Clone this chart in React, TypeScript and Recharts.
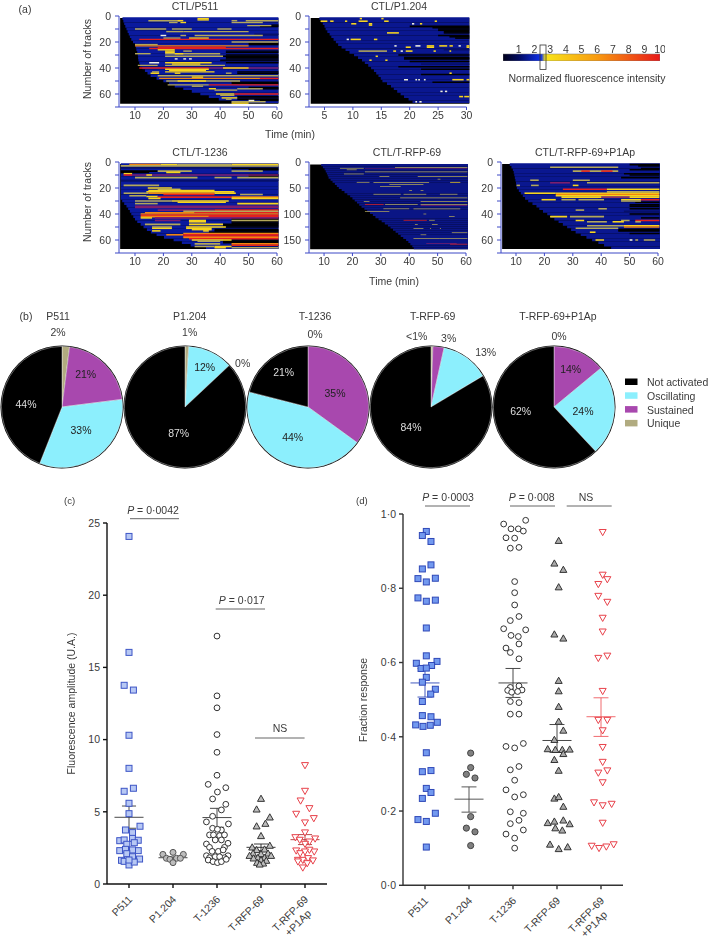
import React from "react";
import { ComposedChart, ScatterChart, Scatter, XAxis, YAxis, ReferenceArea, ReferenceLine, PieChart, Pie, Cell, BarChart, Bar } from "recharts";

const FONT = "'Liberation Sans', Arial, sans-serif";
const TXT = "#3a3a3a";
const AXB = "#3d48c6";
const FS = 10.5;

// intensity levels
const K = 0, N = 1.5, T = 2.7, Y = 3.5, O = 6, P = 7.5, R = 9, W = 11;
const levelColor = (l: number) =>
  l === K ? "#000" : l === N ? "#07106a" : l === T ? "#b3a75a" : l === Y ? "#f7d41e" : l === O ? "#f2850f" : l === P ? "#7d1f6c" : l === R ? "#e3201f" : "#eeeedd";

type Seg = [number, number, number, number];

const entryP511 = [5.6,5.9,6.2,6.6,7,7.4,7.8,8.2,8.7,9.3,10,10.3,10.5,10.8,11,11.1,11.2,11.5,11.8,12.6,13.5,14.4,15.5,17.6,20,22,24,27,30,33,36,39.5,44];
const segsP511: Seg[] = [
  [7,58,60.5,K],[8,54,60.5,K],[14,52,60.5,N],[21,50,60.5,K],[22,50,60.5,K],[27,42,60.5,K],[28,42,60.5,K],[30,42,60.5,K],[31,40,60.5,K],[32,42,60.5,K],[33,42,60.5,K],[34,40,60.5,K],[35,40,60.5,N],[36,42,60.5,K],[43,46,60.5,K],[44,46,60.5,K],[55,50,60.5,K],[56,54,60.5,K],[62,46,60.5,K],[63,46,60.5,K],[64,46,60.5,K],[65,54,60.5,K],[51,44,60.5,K],[52,44,60.5,K],
  [3.6,14.7,26,T],[3.6,25,27,Y],[2,32,36,Y],[3,32,36,Y],[3.6,44,46,T],[3.6,49,60.5,T],[5,22,25,T],[5,26,28,Y],[5,44,55,T],[7.4,49.5,58,T],[10,10,21,T],[10,23,30,T],[10,39,44,T],[12,21,27,T],[12,27,50,T],[15,19,21,W],[15,26,28,T],[15,31,55,T],[17,20,26,T],[17,29,36,Y],[18,11.5,60.5,R],[20,44,60.5,T],[22,10,18,T],[23,10,50,O],[24,18,42,R],[25,15,60.5,R],[26,18,24,Y],[27,20.6,24,Y],[28,20.6,24,Y],[27,27,30,T],[29,10,15.5,T],[29,20.6,40,T],[29,24,27,Y],[31,20.6,41,T],[33,24,25,W],[33,27,28,W],[33,29,30,W],[36,15,18.5,W],[36,20.6,37,Y],[37,23,33,Y],[38,11,18,T],[38,20.6,41.7,T],[40,11.5,36,R],[40,36,60.5,P],[40,41,50,Y],[41,20.6,36,Y],[42,22,35,Y],[43,20.6,38,Y],[43,16,18.5,T],[44,24,26,Y],[44,15.5,18.5,Y],[44,42,44,T],[46,18,60.5,T],[48,18.5,54,O],[48,54,60.5,R],[47,30,34,Y],[50,21,47,T],[50,25,30,Y],[50,30,35,Y],[53,21.5,36,T],[53,36,60.5,R],[54,30,34,T],[56,36,38.5,Y],[56,46,55,T],[57,38,46,T],[60,38.5,45,Y],[60,45,60.5,R],[61,40,45,T],[63,40.5,46,Y],[64,42,44,T],[66,44,56,T],[67,44,50,Y],[65,50,52,W],
];

const entryP1204 = [4.1,4.4,4.7,5,5.2,5.5,5.9,6.2,6.6,7,7.4,8,8.7,9.4,10.2,10.9,11.6,12.1,12.7,13.2,13.7,14.1,14.5,14.9,15.2,16,16.7,17.2,17.8,18.4,19,19.8,20.5];
const segsP1204: Seg[] = [
  [8,20,30.5,K],[9,24,30.5,K],[10,25,30.5,K],[11,25,30.5,K],[12,26,30.5,K],[13,26,30.5,K],[15,25,30.5,K],[16,27,30.5,K],[17,28,30.5,K],[26,26,30.5,N],[30,18,30.5,K],[32,19,30.5,K],[33,19,30.5,K],[35,20,30.5,K],[37,22,30.5,N],[39,18,30.5,K],[41,22,30.5,K],[45,22,30.5,K],[51,24,30.5,K],
  [2,11.2,11.6,Y],[2,15,15.4,Y],[4,4.3,5.5,Y],[4,6,6.6,Y],[4,8.6,9,Y],[4,11,12.6,Y],[4,15.5,16.3,Y],[4,24.4,24.8,Y],[6,9.7,10.6,Y],[6,12.8,13.4,Y],[7,12.8,13.4,Y],[6,20.4,20.8,W],[6,21.8,22.2,Y],[13,16,18.1,Y],[18,8.9,9.3,W],[18,9.6,11.4,Y],[18,13.7,14.3,Y],[23,17.3,17.7,W],[24,19.3,20.2,Y],[23,21,21.9,W],[24,23,24.3,Y],[23,23,24.3,Y],[23,25.2,26.6,Y],[23,27,27.6,Y],[23,28.6,29,W],[23,30,30.5,Y],[24,30,30.5,Y],[27,11,16,T],[27,17.1,17.6,Y],[27,18.4,18.8,W],[27,19.3,20.5,Y],[27,24.2,24.6,Y],[27,27,27.3,Y],[31,14,14.4,Y],[34,12.9,13.3,Y],[34,15.7,16.1,Y],[44,27,27.4,Y],[49,19,19.7,W],[49,21,21.3,W],[49,21.5,21.8,W],[49,22.5,22.8,W],[49,27.5,29.5,Y],[49,30,30.5,Y],[58,25.4,25.8,W],[58,26.2,26.6,W],[62,28.7,29.4,Y],[62,29.6,30.5,Y],[66,21,21.3,W],[66,21.7,22.1,W],
];

const entryT1236 = [5,5,5,5,5,5,5,5,5,5,5,5,5,5,5.5,6.2,7,7.6,8.2,8.7,9.4,10,10.8,12,13,14.2,15.6,17.6,20.2,23.6,26.5,29.6,35];
const segsT1236: Seg[] = [
  [4,5,60.5,N],[5,44,60.5,K],[6,50,60.5,K],[7,5,18,K],[8,5,15,K],[10,50,60.5,K],[11,50,60.5,K],[14,5,60.5,N],[37,30,60.5,N],[43,44,60.5,K],[44,44,60.5,K],[46,44,60.5,K],[47,44,60.5,K],[48,41,60.5,K],[49,41,60.5,K],[50,41,60.5,K],[52,38,60.5,K],[53,38,60.5,K],[54,36,60.5,K],[60,41,60.5,K],[61,41,60.5,K],[62,41,60.5,K],[64,44,60.5,K],
  [2,8,19,O],[2,19,25,Y],[2,25,44,T],[2,44,60.5,Y],[3,5,60.5,T],[7,18,30,T],[7,44,55,T],[8,21,26,Y],[9,6,9,Y],[10,6,9,R],[10,9,60.5,P],[10,14,16,Y],[12,10,32,T],[12,38,44,T],[12,46,60.5,T],[18,6,18.5,T],[20,14.5,23,Y],[21,18,26,T],[22,14.7,26.4,Y],[22,23,38,Y],[23,14,45,Y],[24,6,14.7,T],[24,14.7,38,O],[25,20,38,R],[24,38,45.5,Y],[25,47,55,T],[26,8,14,T],[26.5,14,18,Y],[27,18,44,R],[27,44,60.5,O],[28,14.7,19,Y],[28,44,60.5,Y],[30,10,23,T],[30,23,43,Y],[31,25,42,Y],[32,10,18,T],[32,46,60.5,Y],[34,10,60.5,P],[35,10,60.5,P],[37,18,38,P],[37,38,60.5,R],[38,27,60.5,T],[39,13.5,31,O],[39,31,60.5,R],[40,12,60.5,O],[41,12,60.5,R],[42,12,36,O],[42,36,60.5,R],[43,12,16,Y],[43,17,60.5,P],[45,17,26,P],[45,29,35,Y],[46,29,35,Y],[45,44,60.5,T],[48,13.5,26,T],[48,29,41,Y],[50,16,23,T],[50,28,42,Y],[51,28,37,Y],[52,30,37,Y],[51,16,23,Y],[53,16,19,Y],[53,34,36,Y],[56,21,27,O],[55,27,60.5,O],[56,27,60.5,R],[57,27,60.5,R],[58,27,60.5,O],[59,29,60.5,R],[60,30,44,Y],[61,32,40,T],[63,31,40,T],[63,44,60.5,O],[64,44,60.5,R],[65,31,38,T],[65,38,44,Y],[66,44,60.5,T],[66,38,42,Y],
];

const entryRFP = [9,9.6,10.2,10.6,11,11.3,11.6,12.3,13,13.8,14.5,15.2,16.2,17.2,18.2,19.2,20,20.8,21.6,22.4,23.2,24.2,25.2,26.2,27.2,28.1,29.2,30.3,31.4,32.5,33.4,34.3,35.2,36.1,37,37.9,38.9,39.7,40.4,41.1,41.6];
const segsRFP: Seg[] = [
  [12,15.6,24,T],[12,24.4,60.5,P],[11,35,60.5,T],[15,18,21.5,T],[19,24.4,60.5,T],[23,17,24,T],[28,29.5,33,T],[28,43,60.5,T],[39,21.5,26,T],[39,27.4,47,T],[39,54.4,58,Y],[43,33,45,T],[47,29.7,37,T],[62,27.4,37,T],[62,38,46,T],[62,50.8,57,T],[69,36.8,60.5,T],[76,24,26,T],[76,44,60.5,T],[82,24.4,31,R],[82,31.5,43,T],[82,44,60.5,T],[84,44,60.5,P],[90,30.9,40,T],[90,41.5,58,T],[95,24.4,33,T],[112,38,46.2,R],[112,47,49,T],[128,41.5,45,T],[128,47.3,47.7,T],[128,50.8,51.2,T],[136,55,60.5,T],[147,41.5,50.8,T],[147,50.8,60.5,T],[157,46,56.7,P],[158,54.4,60.5,R],[33,50,51,T],[55,40,41,T],[55,44,45,T],[100,45,46,T],[120,42,43,T],[120,48,50,T],[105,54,56,T],[140,44,46,T],
];

const entryRFPP1 = [7.8,8.4,8.9,9.2,9.4,9.6,9.8,10,10.1,10.3,11,11.7,12.4,13.2,14.3,15.8,17.2,18.2,19.5,21,22.2,23.5,25,26.5,28,29.4,31,32.8,34.8,36.8,39,41,43.5];
const segsRFPP1: Seg[] = [
  [2,50,60.5,K],[3,53,60.5,K],[5,54,60.5,K],[6,50,60.5,K],[9,48,60.5,K],[10,50,60.5,K],[12,47,60.5,K],[31,52,60.5,K],[33,50,60.5,K],[34,50,60.5,K],[36,50,60.5,K],[38,48,60.5,N],[40,50,60.5,K],[43,54,60.5,K],[52,46,60.5,K],[53,46,60.5,K],[55,50,60.5,K],
  [4,22,46,T],[7,30,46,T],[7,33,36,R],[7,40,44,R],[14,15,18,T],[14,30,36,T],[16,22,29,P],[16,35,60.5,T],[18,10.2,11.4,T],[18,15.3,18,T],[18,30,32,Y],[21,26.5,42,R],[21,42,60.5,Y],[23,42,60.5,T],[24,13,24,Y],[24,24,60.5,Y],[25,24,60.5,O],[26,24,60.5,Y],[27,26,60.5,Y],[27,40,50,P],[29,19,24,Y],[29,26,31,T],[29,32,41,T],[29,47,54,Y],[29,54,60.5,R],[30,47,54,T],[36,39,42,T],[37,31,34,T],[42,22,28,Y],[42,29,41,T],[45,31,34,Y],[45,47,50,T],[45,52,60.5,R],[46,35,42,T],[46,44,48,Y],[46,52,54,T],[49,35,48,T],[49,48,60.5,Y],[50,48,60.5,O],[51,31,46,T],[54,36,38,Y],[60,38,41,Y],[60,50,51,W],[60,52,53,T],[60,55,59,T],
];

const rowKey = (i: number, first: number, step: number) => first + i * step;

type HeatProps = { axisX: number; top: number; width: number; xMin: number; xTicks: number[]; yMax: number; yTicks: number[]; yMajor: number[]; entry: number[]; first: number; step: number; half: number; segs: Seg[]; hi: number; blue: string; clipTop: number; clipBot: number; xEnd: number };

const Heat = ({ axisX, top, width, xMin, xTicks, yMax, yTicks, yMajor, entry, first, step, half, segs, hi, blue, clipTop, clipBot, xEnd }: HeatProps) => {
  const pts = entry.map((x, i) => ({ x, y: rowKey(i, first, step) }));
  const tickStyle = { fontSize: FS, fill: TXT, fontFamily: FONT };
  return (
    <div style={{ position: "absolute", left: axisX - 32, top: top - 8 }}>
      <ComposedChart width={width + 32 + 14} height={8 + 91 + 24} margin={{ top: 8, right: 14, bottom: 0, left: 0 }}>
        <XAxis type="number" dataKey="x" domain={[xMin, hi]} ticks={xTicks} interval={0} height={24} tick={tickStyle} tickSize={3} tickMargin={2} stroke={AXB} tickLine={{ stroke: AXB }} axisLine={{ stroke: AXB }} allowDataOverflow />
        <YAxis type="number" dataKey="y" reversed domain={[0, yMax]} ticks={yTicks} interval={0} width={32} tick={tickStyle} tickSize={4} tickMargin={4} tickFormatter={(v: number) => (yMajor.includes(v) ? String(v) : "")} stroke={AXB} tickLine={{ stroke: AXB }} axisLine={{ stroke: AXB }} allowDataOverflow />
        <ReferenceArea x1={xMin + (hi === 30 ? 0.3 : 0.4)} x2={xEnd} y1={clipTop} y2={clipBot} fill="#000" fillOpacity={1} stroke="none" ifOverflow="visible" />
        {entry.map((e, i) => {
          const r = rowKey(i, first, step);
          return <ReferenceArea key={"b" + i} x1={e} x2={xEnd} y1={r - step / 2} y2={Math.min(r + step / 2, clipBot)} fill={blue} fillOpacity={1} stroke="none" ifOverflow="visible" />;
        })}
        {segs.map((s, i) => (
          <ReferenceArea key={"s" + i} x1={s[1]} x2={Math.min(s[2], xEnd)} y1={s[0] - half} y2={s[0] + half} fill={levelColor(s[3])} fillOpacity={1} stroke="none" ifOverflow="visible" />
        ))}
        <Scatter data={pts} isAnimationActive={false} shape={() => <g />} />
      </ComposedChart>
    </div>
  );
};

// colour bar
const barValue = [{ name: "scale", v: 10 }];
const barTicks = [1, 2, 3, 4, 5, 6, 7, 8, 9, 10];

// pies
const pieLevels = ["Unique", "Sustained", "Oscillating", "Not activated"];
const pieColors = ["#b1ab80", "#a848ae", "#8ceffd", "#000000"];
const pieP511 = [2, 21, 33, 44];
const pieP1204 = [1, 0, 12, 87];
const pieT1236 = [0, 35, 44, 21];
const pieRFP = [0.5, 3, 13, 84];
const pieRFPP1 = [0, 14, 24, 62];
const pieOrderP1204 = [0, 2, 1, 3];

const Donut = ({ cx, values, order }: { cx: number; values: number[]; order?: number[] }) => {
  const idx = order || [0, 1, 2, 3];
  const data = idx.map((k) => ({ name: pieLevels[k], value: values[k], color: pieColors[k] }));
  return (
    <div style={{ position: "absolute", left: cx - 66, top: 407 - 66 }}>
      <PieChart width={132} height={132} margin={{ top: 0, right: 0, bottom: 0, left: 0 }}>
        <Pie data={[{ name: "all", value: 100 }]} dataKey="value" cx={66} cy={66} outerRadius={61.5} innerRadius={0} startAngle={90} endAngle={-270} isAnimationActive={false} stroke="none" fill="#000" />
        <Pie data={data} dataKey="value" cx={66} cy={66} outerRadius={60.6} innerRadius={0} startAngle={90} endAngle={-270} isAnimationActive={false} stroke="#fff" strokeWidth={0.4}>
          {data.map((d, i) => <Cell key={i} fill={d.color} />)}
        </Pie>
      </PieChart>
    </div>
  );
};

// scatter panels
type Pt = [number, number];
const cats = ["P511", "P1.204", "T-1236", "T-RFP-69", "T-RFP-69"];
const catCentres = [0.5, 1.5, 2.5, 3.5, 4.5];

const toXY = (a: Pt[]) => a.map(([x, y]) => ({ x, y }));

// panel c: x in category units, y in fluorescence amplitude
const cP511: Pt[] = [[.5,24.07],[.5,16.04],[.39,13.76],[.6,13.43],[.5,10.3],[.5,8.01],[.6,6.63],[.39,6.42],[.5,5.59],[.5,4.87],[.75,4.0],[.42,3.74],[.58,3.56],[.58,3.16],[.29,3.0],[.71,3.03],[.39,3.05],[.62,2.86],[.45,2.75],[.29,2.31],[.42,2.4],[.71,2.31],[.58,2.36],[.45,2.1],[.58,1.89],[.74,1.73],[.33,1.64],[.39,1.57],[.5,1.32],[.62,1.52],[.5,1.66]];
const cP1204: Pt[] = [[1.5,2.19],[1.27,2.05],[1.735,2.05],[1.35,1.78],[1.43,1.71],[1.58,1.78],[1.667,1.78],[1.5,1.48]];
const cT1236: Pt[] = [[2.5,17.17],[2.5,13.03],[2.5,12.2],[2.5,10.35],[2.5,9.12],[2.5,7.53],[2.3,6.9],[2.7,6.67],[2.51,6.37],[2.4,5.89],[2.7,5.52],[2.6,5.13],[2.4,4.69],[2.26,4.3],[2.76,4.16],[2.4,3.86],[2.6,3.74],[2.51,3.79],[2.33,3.4],[2.42,3.4],[2.56,3.35],[2.67,3.4],[2.46,3.05],[2.6,3.05],[2.75,2.82],[2.26,2.77],[2.33,2.54],[2.67,2.54],[2.39,2.26],[2.53,2.26],[2.64,2.36],[2.26,1.96],[2.75,1.96],[2.33,1.82],[2.67,1.82],[2.46,1.89],[2.56,1.89],[2.3,1.66],[2.41,1.55],[2.51,1.48],[2.6,1.55],[2.71,1.71]];
const cRFP: Pt[] = [[3.5,5.91],[3.4,5.17],[3.7,4.62],[3.6,4.18],[3.4,4.0],[3.5,3.33],[3.3,2.54],[3.7,2.66],[3.4,2.36],[3.58,2.4],[3.32,2.12],[3.5,2.08],[3.66,2.12],[3.24,1.96],[3.73,1.96],[3.43,1.82],[3.58,1.82],[3.33,1.78],[3.5,1.66],[3.62,1.62],[3.41,1.48],[3.55,1.43],[3.47,1.36]];
const cRFPP1: Pt[] = [[4.5,8.22],[4.5,6.44],[4.4,5.77],[4.6,5.24],[4.3,4.85],[4.7,4.55],[4.5,4.25],[4.5,3.56],[4.28,3.23],[4.73,3.14],[4.38,3.05],[4.6,2.93],[4.5,2.77],[4.3,2.31],[4.71,2.24],[4.39,2.12],[4.6,2.36],[4.5,2.24],[4.34,1.66],[4.45,1.66],[4.57,1.78],[4.68,1.62],[4.55,1.43],[4.45,1.13],[4.34,1.55]];
const cStats: number[][] = [[4.62, 3.86, 5.4], [1.82, 1.77, 1.87], [4.6, 3.93, 5.24], [2.54, 2.31, 2.77], [3.07, 2.73, 3.42]];

// panel d: x in category units, y in fraction response
const dP511: Pt[] = [[.53,.953],[.44,.942],[.636,.926],[.636,.863],[.44,.852],[.34,.826],[.53,.817],[.735,.827],[.34,.774],[.53,.765],[.735,.768],[.53,.693],[.53,.618],[.303,.598],[.773,.603],[.65,.592],[.41,.584],[.53,.585],[.53,.56],[.44,.547],[.735,.528],[.63,.515],[.44,.495],[.44,.457],[.636,.454],[.78,.439],[.288,.432],[.455,.428],[.62,.431],[.53,.357],[.44,.306],[.636,.309],[.53,.261],[.636,.25],[.44,.234],[.735,.194],[.34,.177],[.53,.172],[.53,.103]];
const dP1204: Pt[] = [[1.538,.356],[1.538,.317],[1.44,.299],[1.636,.289],[1.538,.185],[1.44,.154],[1.636,.144],[1.538,.107]];
const dT1236: Pt[] = [[2.788,.983],[2.288,.973],[2.455,.96],[2.621,.96],[2.735,.954],[2.341,.936],[2.538,.935],[2.439,.908],[2.636,.91],[2.538,.818],[2.538,.788],[2.538,.755],[2.636,.724],[2.439,.713],[2.288,.691],[2.788,.688],[2.455,.673],[2.621,.67],[2.636,.65],[2.341,.639],[2.439,.627],[2.636,.61],[2.439,.533],[2.636,.537],[2.379,.525],[2.705,.526],[2.47,.52],[2.606,.522],[2.439,.495],[2.636,.492],[2.439,.461],[2.636,.461],[2.341,.374],[2.538,.37],[2.735,.382],[2.439,.311],[2.636,.32],[2.538,.283],[2.341,.257],[2.538,.238],[2.735,.244],[2.439,.198],[2.735,.194],[2.636,.175],[2.439,.166],[2.735,.149],[2.341,.138],[2.538,.127],[2.538,.1]];
const dRFP: Pt[] = [[3.538,.928],[3.44,.867],[3.644,.85],[3.538,.803],[3.44,.676],[3.644,.665],[3.538,.551],[3.538,.523],[3.538,.481],[3.538,.441],[3.644,.417],[3.44,.392],[3.288,.367],[3.462,.365],[3.621,.365],[3.788,.366],[3.644,.354],[3.44,.338],[3.538,.309],[3.44,.234],[3.538,.238],[3.644,.212],[3.288,.168],[3.44,.172],[3.644,.175],[3.788,.165],[3.462,.154],[3.621,.148],[3.341,.11],[3.538,.098],[3.742,.103]];
const dRFPP1: Pt[] = [[4.538,.951],[4.538,.836],[4.644,.824],[4.439,.811],[4.439,.779],[4.644,.763],[4.538,.72],[4.538,.683],[4.644,.618],[4.439,.612],[4.538,.523],[4.439,.445],[4.644,.445],[4.538,.417],[4.538,.372],[4.538,.332],[4.644,.309],[4.439,.303],[4.538,.277],[4.341,.223],[4.742,.219],[4.538,.215],[4.538,.168],[4.288,.106],[4.455,.1],[4.621,.104],[4.788,.11]];
const dStats: number[][] = [[.545, .507, .584], [.232, .197, .265], [.545, .506, .584], [.39, .358, .433], [.454, .401, .505]];

const square = (fill: string, stroke: string, s = 6) => (p: any) => <rect x={p.cx - s / 2} y={p.cy - s / 2} width={s} height={s} fill={fill} stroke={stroke} strokeWidth={1} />;
const circle = (fill: string, stroke: string, r = 2.9) => (p: any) => <circle cx={p.cx} cy={p.cy} r={r} fill={fill} stroke={stroke} strokeWidth={1} />;
const triUp = (fill: string, stroke: string) => (p: any) => <path d={`M${p.cx} ${p.cy - 3.5}L${p.cx + 3.5} ${p.cy + 2.7}L${p.cx - 3.5} ${p.cy + 2.7}Z`} fill={fill} stroke={stroke} strokeWidth={1} />;
const triDown = (fill: string, stroke: string) => (p: any) => <path d={`M${p.cx} ${p.cy + 3.5}L${p.cx + 3.5} ${p.cy - 2.7}L${p.cx - 3.5} ${p.cy - 2.7}Z`} fill={fill} stroke={stroke} strokeWidth={1} />;

const CatTick = (props: any) => {
  const { x, y, payload } = props;
  const i = catCentres.indexOf(payload.value);
  return (
    <g transform={`translate(${x + 4},${y + 10}) rotate(-45)`}>
      <text textAnchor="end" fontSize={FS} fontFamily={FONT} fill={TXT} x={0} y={0}>{cats[i]}</text>
      {i === 4 ? <text textAnchor="end" fontSize={FS} fontFamily={FONT} fill={TXT} x={-8} y={12}>+P1Ap</text> : null}
    </g>
  );
};

const statLines = (stats: number[][], colors: string[], xs: number[], half: number, cap: number, w: number) =>
  stats.flatMap(([m, lo, hi], i) => {
    const c = xs[i];
    const st = colors[i];
    return [
      <ReferenceLine key={"m" + i} segment={[{ x: c - half, y: m }, { x: c + half, y: m }]} stroke={st} strokeWidth={w} ifOverflow="visible" />,
      <ReferenceLine key={"v" + i} segment={[{ x: c, y: lo }, { x: c, y: hi }]} stroke={st} strokeWidth={w} ifOverflow="visible" />,
      <ReferenceLine key={"t" + i} segment={[{ x: c - cap, y: hi }, { x: c + cap, y: hi }]} stroke={st} strokeWidth={w} ifOverflow="visible" />,
      <ReferenceLine key={"l" + i} segment={[{ x: c - cap, y: lo }, { x: c + cap, y: lo }]} stroke={st} strokeWidth={w} ifOverflow="visible" />,
    ];
  });

const T_ = ({ x, y, children, a = "middle", size = FS, fill = TXT, rot }: any) => (
  <text x={x} y={y} textAnchor={a} dominantBaseline="central" fontSize={size} fontFamily={FONT} fill={fill} transform={rot ? `rotate(${rot} ${x} ${y})` : undefined}>{children}</text>
);
const PVal = ({ x, y, v }: any) => (
  <text x={x} y={y} textAnchor="middle" dominantBaseline="central" fontSize={FS} fontFamily={FONT} fill={TXT}><tspan fontStyle="italic">P</tspan> = {v}</text>
);

const legendNames = ["Not activated", "Oscillating", "Sustained", "Unique"];
const legendColors = ["#000000", "#8ceffd", "#a848ae", "#b1ab80"];

const ticks10 = [0, 10, 20, 30, 40, 50, 60, 70];
const major = [0, 20, 40, 60];
const timeTicks = [10, 20, 30, 40, 50, 60];
const P1Ticks = [5, 10, 15, 20, 25, 30];

export default function App() {
  return (
    <div style={{ position: "absolute", left: 0, top: 0, width: 709, height: 941, background: "#fff", overflow: "hidden", filter: "blur(0.35px)" }}>
      <div style={{ filter: "blur(0.35px)" }}>
        <Heat axisX={119} top={16} width={158} xMin={4.37} hi={60} xEnd={60.5} xTicks={timeTicks} yMax={70} yTicks={ticks10} yMajor={major} entry={entryP511} first={2} step={2} half={0.55} segs={segsP511} blue="#0a1a9e" clipTop={1.5} clipBot={67.5} />
        <Heat axisX={308.5} top={16} width={157.5} xMin={2.27} hi={30} xEnd={30.5} xTicks={P1Ticks} yMax={70} yTicks={ticks10} yMajor={major} entry={entryP1204} first={2} step={2} half={0.6} segs={segsP1204} blue="#0a1790" clipTop={1.5} clipBot={67.5} />
        <Heat axisX={119} top={162} width={158} xMin={4.37} hi={60} xEnd={60.5} xTicks={timeTicks} yMax={70} yTicks={ticks10} yMajor={major} entry={entryT1236} first={2} step={2} half={0.6} segs={segsT1236} blue="#0a1a9e" clipTop={1.5} clipBot={67} />
        <Heat axisX={309} top={162} width={157} xMin={4.7} hi={60} xEnd={60.7} xTicks={timeTicks} yMax={175} yTicks={[0, 25, 50, 75, 100, 125, 150, 175]} yMajor={[0, 50, 100, 150]} entry={entryRFP} first={6} step={4} half={0.7} segs={segsRFP} blue="#0a1585" clipTop={5} clipBot={168} />
        <Heat axisX={501} top={162} width={157} xMin={4.72} hi={60} xEnd={60.7} xTicks={timeTicks} yMax={70} yTicks={ticks10} yMajor={major} entry={entryRFPP1} first={2} step={2} half={0.6} segs={segsRFPP1} blue="#0a1790" clipTop={1.5} clipBot={67} />

        <div style={{ position: "absolute", left: 503 - 5, top: 40 }}>
          <BarChart layout="vertical" width={157 + 10} height={21} data={barValue} margin={{ top: 0, right: 5, bottom: 0, left: 5 }} barCategoryGap={0}>
            <defs>
              <linearGradient id="scaleGrad" x1="0" x2="1" y1="0" y2="0">
                <stop offset="0" stopColor="#00001a" />
                <stop offset="0.1" stopColor="#000a60" />
                <stop offset="0.23" stopColor="#0f2ee0" />
                <stop offset="0.245" stopColor="#1a3be0" />
                <stop offset="0.27" stopColor="#f8e41a" />
                <stop offset="0.6" stopColor="#f89a10" />
                <stop offset="1" stopColor="#e81818" />
              </linearGradient>
            </defs>
            <XAxis type="number" orientation="top" domain={[0, 10]} ticks={barTicks} interval={0} height={14} tick={{ fontSize: FS, fill: TXT, fontFamily: FONT }} tickSize={0} tickMargin={1} axisLine={false} allowDataOverflow />
            <YAxis type="category" dataKey="name" hide />
            <Bar dataKey="v" fill="url(#scaleGrad)" isAnimationActive={false} stroke="#777" strokeWidth={0.5} />
          </BarChart>
        </div>
      </div>

      <Donut cx={61.7} values={pieP511} />
      <Donut cx={185} values={pieP1204} order={pieOrderP1204} />
      <Donut cx={308} values={pieT1236} />
      <Donut cx={430.7} values={pieRFP} />
      <Donut cx={554} values={pieRFPP1} />

      <div style={{ position: "absolute", left: 77.3, top: 513 }}>
        <ScatterChart width={265} height={430} margin={{ top: 10, right: 15, bottom: 0, left: 0 }}>
          <XAxis type="number" dataKey="x" domain={[0, 5]} ticks={catCentres} interval={0} height={59} tick={<CatTick />} tickSize={4} stroke="#111" strokeWidth={1.4} tickLine={{ stroke: "#111" }} />
          <YAxis type="number" dataKey="y" domain={[0, 25]} ticks={[0, 5, 10, 15, 20, 25]} interval={0} width={30} tick={{ fontSize: FS, fill: TXT, fontFamily: FONT }} tickSize={4} tickMargin={3} stroke="#111" strokeWidth={1.4} tickLine={{ stroke: "#111" }} />
          <Scatter data={toXY(cP511)} isAnimationActive={false} shape={square("#b7c8f4", "#3d55c6")} />
          <Scatter data={toXY(cP1204)} isAnimationActive={false} shape={circle("#bdbdbd", "#555", 3)} />
          <Scatter data={toXY(cT1236)} isAnimationActive={false} shape={circle("#fff", "#333")} />
          <Scatter data={toXY(cRFP)} isAnimationActive={false} shape={triUp("#bdbdbd", "#333")} />
          <Scatter data={toXY(cRFPP1)} isAnimationActive={false} shape={triDown("#fff", "#e8414a")} />
          {statLines(cStats, ["#333", "#333", "#333", "#222", "#a33"], catCentres, 0.33, 0.16, 0.9)}
        </ScatterChart>
      </div>

      <div style={{ position: "absolute", left: 373, top: 504 }}>
        <ScatterChart width={265} height={440} margin={{ top: 10, right: 15, bottom: 0, left: 0 }}>
          <XAxis type="number" dataKey="x" domain={[0, 5]} ticks={catCentres} interval={0} height={58.7} tick={<CatTick />} tickSize={4} stroke="#333" strokeWidth={1.4} tickLine={{ stroke: "#333" }} />
          <YAxis type="number" dataKey="y" domain={[0, 1]} ticks={[0, 0.2, 0.4, 0.6, 0.8, 1]} interval={0} width={30} tick={{ fontSize: FS, fill: TXT, fontFamily: FONT }} tickFormatter={(v: number) => v.toFixed(1).replace(".", "·")} tickSize={4} tickMargin={3} stroke="#333" strokeWidth={1.4} tickLine={{ stroke: "#333" }} />
          <Scatter data={toXY(dP511)} isAnimationActive={false} shape={square("#7299ef", "#2f48b8", 6)} />
          <Scatter data={toXY(dP1204)} isAnimationActive={false} shape={circle("#808080", "#444", 3.1)} />
          <Scatter data={toXY(dT1236)} isAnimationActive={false} shape={circle("#fff", "#333")} />
          <Scatter data={toXY(dRFP)} isAnimationActive={false} shape={triUp("#aaa", "#333")} />
          <Scatter data={toXY(dRFPP1)} isAnimationActive={false} shape={triDown("#fff", "#e8414a")} />
          {statLines(dStats, ["#2f48b8", "#444", "#333", "#333", "#ee5a5f"], catCentres, 0.33, 0.17, 0.9)}
        </ScatterChart>
      </div>

      <svg width={709} height={941} style={{ position: "absolute", left: 0, top: 0, pointerEvents: "none" }}>
        <T_ x={25} y={9}>(a)</T_>
        <T_ x={195} y={6}>CTL/P511</T_>
        <T_ x={399} y={6}>CTL/P1.204</T_>
        <T_ x={200} y={152}>CTL/T-1236</T_>
        <T_ x={407} y={152}>CTL/T-RFP-69</T_>
        <T_ x={585} y={152}>CTL/T-RFP-69+P1Ap</T_>
        <T_ x={87} y={59} rot={-90}>Number of tracks</T_>
        <T_ x={87} y={202} rot={-90}>Number of tracks</T_>
        <T_ x={290} y={134}>Time (min)</T_>
        <T_ x={394} y={281}>Time (min)</T_>
        <rect x={540} y={45} width={6} height={24.5} fill="none" stroke="#333" strokeWidth={0.8} />
        <T_ x={587} y={78}>Normalized fluorescence intensity</T_>

        <T_ x={26} y={316}>(b)</T_>
        <T_ x={58} y={316}>P511</T_><T_ x={58} y={332}>2%</T_>
        <T_ x={85.7} y={374} fill="#222">21%</T_><T_ x={81} y={430} fill="#222">33%</T_><T_ x={26} y={404} fill="#ddd">44%</T_>
        <T_ x={189.7} y={316}>P1.204</T_><T_ x={189.7} y={332}>1%</T_>
        <T_ x={204.7} y={367} fill="#222">12%</T_><T_ x={242.7} y={363}>0%</T_><T_ x={178.7} y={433} fill="#ddd">87%</T_>
        <T_ x={315} y={316}>T-1236</T_><T_ x={315} y={334}>0%</T_>
        <T_ x={283.7} y={372} fill="#ddd">21%</T_><T_ x={335} y={393} fill="#222">35%</T_><T_ x={292.7} y={437} fill="#222">44%</T_>
        <T_ x={432.7} y={316}>T-RFP-69</T_><T_ x={416.7} y={336}>&lt;1%</T_><T_ x={448.7} y={338}>3%</T_><T_ x={485.7} y={352}>13%</T_>
        <T_ x={411} y={427} fill="#ddd">84%</T_>
        <T_ x={558} y={316}>T-RFP-69+P1Ap</T_><T_ x={559} y={336}>0%</T_>
        <T_ x={570.7} y={369} fill="#222">14%</T_><T_ x={583} y={411} fill="#222">24%</T_><T_ x={520.7} y={411} fill="#ddd">62%</T_>
        {legendNames.map((n, i) => (
          <g key={n}>
            <rect x={625} y={378.5 + i * 13.8} width={12.5} height={6.5} fill={legendColors[i]} />
            <T_ x={647} y={382 + i * 13.8} a="start">{n}</T_>
          </g>
        ))}

        <T_ x={64} y={500} a="start" size={9.6}>(c)</T_>
        <T_ x={71} y={703.5} rot={-90}>Fluorescence amplitude (U.A.)</T_>
        <PVal x={153} y={510} v="0·0042" />
        <line x1={130} x2={179} y1={518.7} y2={518.7} stroke="#666" />
        <PVal x={241.7} y={600} v="0·017" />
        <line x1={215.7} x2={265} y1={609} y2={609} stroke="#666" />
        <T_ x={280} y={727.7}>NS</T_>
        <line x1={255} x2={304.6} y1={738} y2={738} stroke="#666" />

        <T_ x={356} y={500} a="start" size={9.6}>(d)</T_>
        <T_ x={363} y={700} rot={-90}>Fraction response</T_>
        <PVal x={448} y={497} v="0·0003" />
        <line x1={425} x2={470} y1={506} y2={506} stroke="#666" />
        <PVal x={531.7} y={497} v="0·008" />
        <line x1={510} x2={555} y1={506} y2={506} stroke="#666" />
        <T_ x={586} y={497}>NS</T_>
        <line x1={566.7} x2={611.7} y1={506} y2={506} stroke="#666" />
      </svg>
    </div>
  );
}
